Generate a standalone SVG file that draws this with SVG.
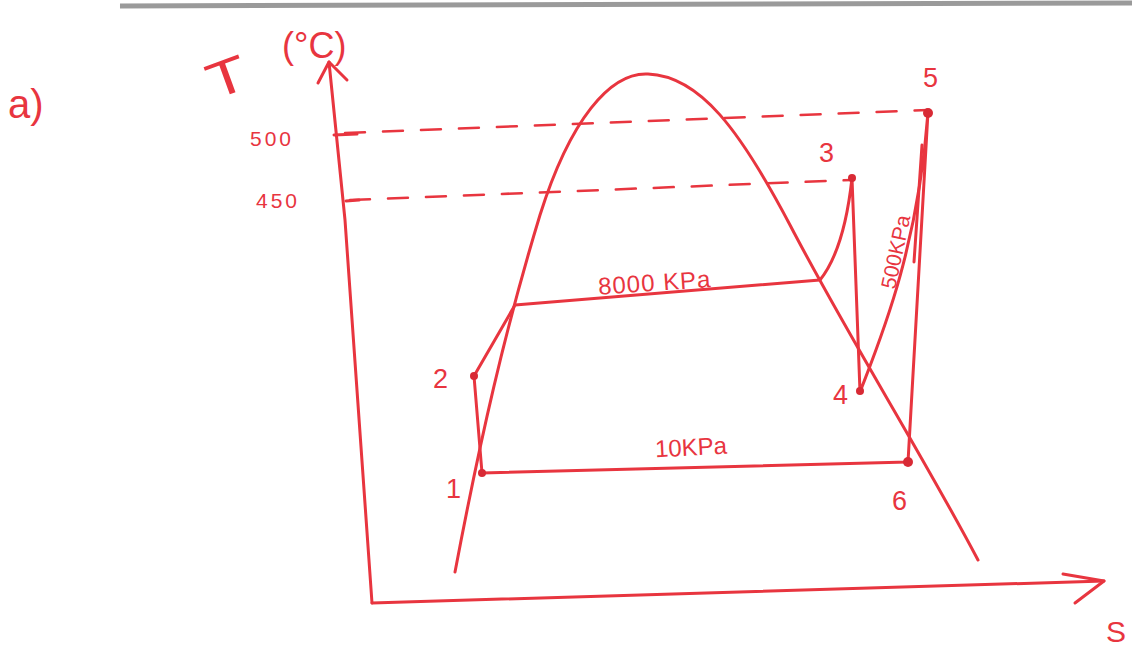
<svg xmlns="http://www.w3.org/2000/svg" width="1132" height="646" viewBox="0 0 1132 646">
<style>
.ln{fill:none;stroke:#e8353f;stroke-width:3;stroke-linecap:round;stroke-linejoin:round}
.ds{fill:none;stroke:#e8353f;stroke-width:2.5;stroke-dasharray:20 18;stroke-linecap:round}
.tx{fill:#e8353f;font-family:"Liberation Sans",sans-serif;font-size:24px}
.nm{fill:#e8353f;font-family:"Liberation Sans",sans-serif;font-size:27px}
.sm{fill:#e8353f;font-family:"Liberation Sans",sans-serif;font-size:21px}
.pt{fill:#d82a35}
</style>
<rect width="1132" height="646" fill="#ffffff"/>
<line x1="120" y1="6" x2="1132" y2="3" stroke="#9a9a9a" stroke-width="5"/>
<g id="label-a"><text class="tx" x="8" y="118" style="font-size:40px">a)</text></g>
<g id="axes">
<path class="ln" d="M372,603 L345,220 L329,62"/>
<path class="ln" d="M318,83 L329,62 L347,80"/>
<path class="ln" d="M372,603 L1104,581"/>
<path class="ln" d="M1063,574 L1104,581 L1075,603"/>
<path class="ln" d="M334,135 L357,134 M346,201 L359,200"/>
<text class="tx" x="0" y="0" style="font-size:50px" transform="translate(214,100) rotate(-20) scale(1.3,1)">T</text>
<text class="tx" x="282" y="58" style="font-size:36px">(°C)</text>
<text class="sm" x="250" y="146" letter-spacing="3">500</text>
<text class="sm" x="256" y="208" letter-spacing="3">450</text>
<text class="tx" x="1106" y="642" style="font-size:30px">S</text>
</g>
<g id="connectors">
<path class="ds" d="M345,133 L928,110"/>
<path class="ds" d="M350,200 L852,180"/>
<path id="dome" class="ln" d="M455,572 C480,440 505,330 540,215 C570,120 610,72 648,74 C700,76 740,130 790,225 C850,340 920,450 978,560"/>
<path class="ln" d="M482,473 L474,376 L515,305 L820,280 C840,255 848,215 852,178 L860,392 C880,340 918,250 928,112 L908,462 L482,473"/>
<path class="ln" d="M922,145 L914,262"/>
</g>
<g id="node-1"><circle class="pt" cx="482" cy="473" r="4"/><text class="nm" x="446" y="498">1</text></g>
<g id="node-2"><circle class="pt" cx="474" cy="376" r="4"/><text class="nm" x="433" y="388">2</text></g>
<g id="node-3"><circle class="pt" cx="852" cy="178" r="4"/><text class="nm" x="819" y="162">3</text></g>
<g id="node-4"><circle class="pt" cx="860" cy="391" r="4"/><text class="nm" x="833" y="404">4</text></g>
<g id="node-5"><circle class="pt" cx="928" cy="113" r="5"/><text class="nm" x="923" y="87">5</text></g>
<g id="node-6"><circle class="pt" cx="908" cy="462" r="5"/><text class="nm" x="892" y="510">6</text></g>
<g id="pressure-labels">
<text class="tx" x="598" y="290" letter-spacing="1" transform="rotate(-4 668 282)">8000 KPa</text>
<text class="tx" x="655" y="455" transform="rotate(-3 700 448)">10KPa</text>
<text class="sm" x="0" y="0" transform="translate(895,290) rotate(-78)">500KPa</text>
</g>
</svg>
